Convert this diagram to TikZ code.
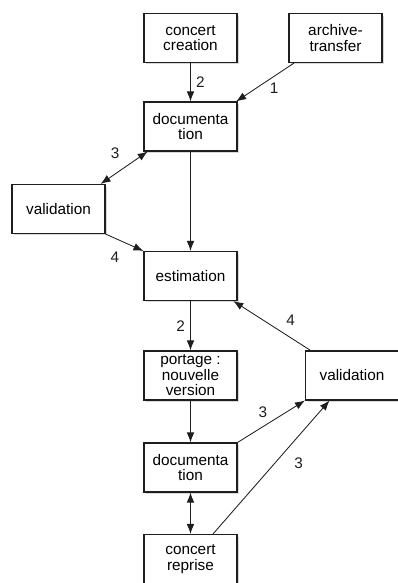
\documentclass[tikz,border=0pt]{standalone}
\usepackage{fontspec}
\setmainfont{Liberation Sans}
\usepackage{tikz}
\usetikzlibrary{arrows.meta,shadows,positioning}
\definecolor{trait}{RGB}{30,30,30}
\tikzset{
  etape/.style={draw=trait,line width=0.9pt,fill=white,minimum width=2.32cm,minimum height=1.22cm,
    align=center,inner sep=1pt,font=\fontsize{10.9}{11}\selectfont,
    drop shadow={shadow xshift=1.4pt,shadow yshift=-1.4pt,opacity=0.3}},
  fleche/.style={-{Latex[length=2.5mm,width=1.9mm]},line width=0.6pt,color=trait},
  double/.style={{Latex[length=2.5mm,width=1.9mm]}-{Latex[length=2.5mm,width=1.9mm]},line width=0.6pt,color=trait},
  num/.style={font=\fontsize{10.9}{11}\selectfont,inner sep=0pt}
}
\begin{document}
\begin{tikzpicture}[x=0.025cm,y=-0.025cm]
		\useasboundingbox (0,0) rectangle (398,583);
		\node[etape] (crea) at (190.5,38) {concert\\creation};
		\node[etape] (archive) at (335.5,38) {archive-\\transfer};
		\node[etape] (doca) at (190.5,126.5) {documenta\\tion};
		\node[etape] (valg) at (58.5,209) {validation};
		\node[etape] (estim) at (190.5,276) {estimation};
		\node[etape] (portage) at (190.5,375.5) {portage :\\nouvelle\\version};
		\node[etape] (vald) at (352,375.5) {validation};
		\node[etape] (docb) at (190.5,467.5) {documenta\\tion};
		\node[etape] (reprise) at (190.5,559) {concert\\reprise};
		\draw[fleche] (crea) -- node[num,midway,xshift=7pt,yshift=0pt] {2} (doca);
		\draw[fleche] ([xshift=4pt]archive.south west) -- node[num,midway,xshift=6.4pt,yshift=-4.3pt] {1} ([xshift=-1pt]doca.north east);
		\draw[double] ([xshift=3pt]doca.south west) -- node[num,midway,xshift=-6.4pt,yshift=10pt] {3} ([xshift=-3.5pt]valg.north east);
		\draw[fleche] (doca) -- (estim);
		\draw[fleche] (valg.south east) -- node[num,midway,xshift=-6.8pt,yshift=-10.3pt] {4} (estim.north west);
		\draw[fleche] (estim) -- node[num,midway,xshift=-7pt] {2} (portage);
		\draw[fleche] ([xshift=4pt]vald.north west) -- node[num,midway,xshift=13.2pt,yshift=3.6pt] {4} ([xshift=-3pt]estim.south east);
		\draw[fleche] (portage) -- (docb);
		\draw[fleche] (docb.north east) -- node[num,midway,xshift=-6pt,yshift=6.8pt] {3} (vald.south west);
		\draw[fleche] ([xshift=16pt]reprise.north) -- node[num,midway,xshift=19.5pt,yshift=3.2pt] {3} ([xshift=-16pt]vald.south);
		\draw[double] (docb) -- (reprise);
\end{tikzpicture}
\end{document}
